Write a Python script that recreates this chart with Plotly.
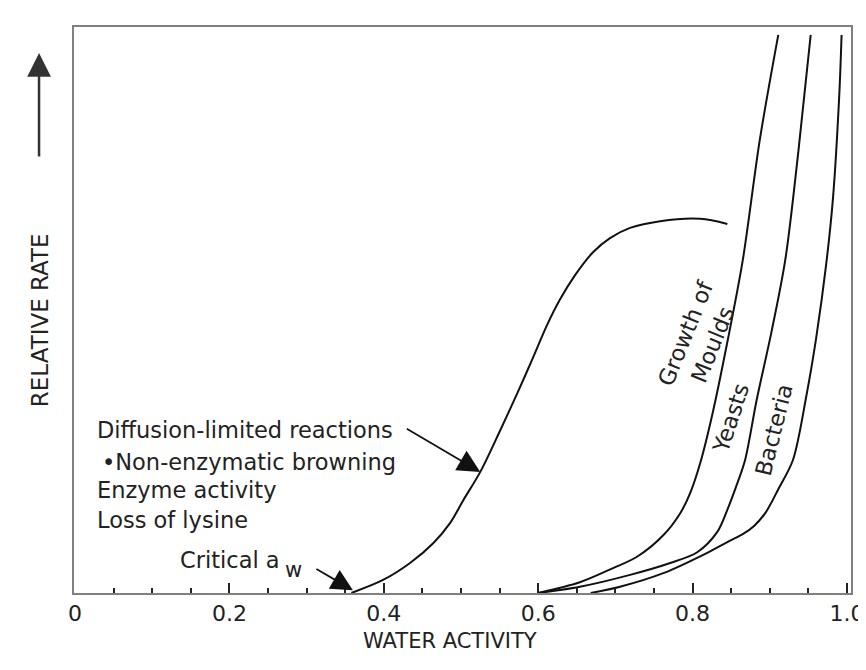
import plotly.graph_objects as go

# ---- data (water activity vs relative rate, arbitrary 0-100 scale) ----
aw_diffusion = [0.358, 0.399, 0.434, 0.464, 0.486, 0.503, 0.525, 0.551, 0.573, 0.593,
                0.611, 0.628, 0.648, 0.671, 0.693, 0.719, 0.758, 0.810, 0.845]
rate_diffusion = [0, 2.3, 5.3, 8.8, 12.4, 16.4, 21.4, 28.8, 35.3, 41.5,
                  47.2, 51.8, 56.2, 60.2, 62.7, 64.5, 65.7, 66.1, 65.2]

aw_moulds = [0.600, 0.654, 0.697, 0.728, 0.762, 0.784, 0.797, 0.810, 0.826, 0.846, 0.865, 0.887, 0.911]
rate_moulds = [0, 1.9, 4.4, 6.4, 10.2, 14.1, 17.7, 23.0, 31.8, 45.0, 58.8, 80.0, 98.6]

aw_yeasts = [0.600, 0.654, 0.719, 0.771, 0.806, 0.832, 0.845, 0.858, 0.868, 0.883, 0.902, 0.920, 0.937, 0.953]
rate_yeasts = [0, 1.1, 3.2, 5.3, 7.2, 10.8, 14.7, 19.4, 23.5, 34.1, 46.0, 58.8, 78.0, 98.6]

aw_bacteria = [0.668, 0.706, 0.762, 0.819, 0.848, 0.865, 0.880, 0.895, 0.912, 0.930, 0.948, 0.960,
               0.973, 0.982, 0.990, 0.993]
rate_bacteria = [0, 1.1, 3.5, 7.1, 9.2, 10.4, 11.9, 14.3, 18.6, 23.5, 35.3, 45.0,
                 58.0, 70.0, 88.0, 98.6]

x_tick_vals = [0, 0.2, 0.4, 0.6, 0.8, 1.0]
x_tick_text = ["0", "0.2", "0.4", "0.6", "0.8", "1.0"]

left_labels = ["Diffusion-limited reactions", "\u2022Non-enzymatic browning", "Enzyme activity", "Loss of lysine"]
left_label_x = [0.026, 0.032, 0.026, 0.026]
left_label_y = [28.8, 23.1, 18.2, 12.9]

curve_labels = ["Growth of<br>Moulds", "Yeasts", "Bacteria"]
curve_label_x = [0.808, 0.849, 0.905]
curve_label_y = [45.0, 31.0, 28.8]
curve_label_angle = [-68, -72, -76]

x_title = "WATER ACTIVITY"
y_title = "RELATIVE RATE"

FONT = "DejaVu Sans"
TXT = "#222222"

# the page body adds an 8px offset, so the figure is sized/margined to compensate
fig = go.Figure()
for xs, ys in [(aw_diffusion, rate_diffusion), (aw_moulds, rate_moulds),
               (aw_yeasts, rate_yeasts), (aw_bacteria, rate_bacteria)]:
    fig.add_trace(go.Scatter(x=xs, y=ys, mode="lines",
                             line=dict(color="#111111", width=2, shape="spline", smoothing=0.9),
                             hoverinfo="skip", showlegend=False))

annotations = []
for t, x, y in zip(left_labels, left_label_x, left_label_y):
    annotations.append(dict(text=t, x=x, y=y, xref="x", yref="y", xanchor="left", yanchor="middle",
                            showarrow=False, font=dict(family=FONT, size=22.5, color=TXT)))
for t, x, y, a in zip(curve_labels, curve_label_x, curve_label_y, curve_label_angle):
    annotations.append(dict(text=t, x=x, y=y, xref="x", yref="y", xanchor="center", yanchor="middle",
                            textangle=a, showarrow=False, font=dict(family=FONT, size=22.5, color=TXT)))
# Critical a_w label
annotations.append(dict(text="Critical a", x=0.134, y=5.8, xref="x", yref="y", xanchor="left",
                        yanchor="middle", showarrow=False, font=dict(family=FONT, size=22.5, color=TXT)))
annotations.append(dict(text="w", x=0.283, y=4.0, xref="x", yref="y", xanchor="center",
                        yanchor="middle", showarrow=False, font=dict(family=FONT, size=21, color=TXT)))
# axis titles
annotations.append(dict(text=x_title, x=0.484, y=-0.0848, xref="paper", yref="paper",
                        xanchor="center", yanchor="middle", showarrow=False,
                        font=dict(family=FONT, size=21, color=TXT)))
annotations.append(dict(text=y_title, x=-0.0438, y=0.482, xref="paper", yref="paper",
                        xanchor="center", yanchor="middle", textangle=-90, showarrow=False,
                        font=dict(family=FONT, size=23, color=TXT)))
# arrows
annotations.append(dict(text="", x=0.525, y=21.4, xref="x", yref="y", ax=-75, ay=-44,
                        showarrow=True, arrowhead=2, arrowsize=2.5, arrowwidth=1.8, arrowcolor="#111111"))
annotations.append(dict(text="", x=0.360, y=0.5, xref="x", yref="y", ax=-38, ay=-22,
                        showarrow=True, arrowhead=2, arrowsize=2.4, arrowwidth=1.8, arrowcolor="#111111"))
annotations.append(dict(text="", x=-0.045, y=0.954, xref="paper", yref="paper", ax=0, ay=105,
                        showarrow=True, arrowhead=2, arrowsize=1.9, arrowwidth=2.5, arrowcolor="#333333"))

fig.update_layout(
    width=858, height=662,
    margin=dict(l=66, r=15, t=19, b=77),
    plot_bgcolor="white", paper_bgcolor="white",
    annotations=annotations,
    xaxis=dict(range=[-0.0013, 1.0052], showgrid=False, zeroline=False,
               showline=True, mirror=True, linecolor="#808080", linewidth=2,
               ticks="inside", ticklen=10, tickwidth=2, tickcolor="#222222",
               tickmode="array", tickvals=x_tick_vals, ticktext=x_tick_text,
               tickfont=dict(family=FONT, size=22, color=TXT),
               minor=dict(tickmode="linear", tick0=0, dtick=0.05, ticks="inside",
                          ticklen=5, tickwidth=2, tickcolor="#222222"),
               automargin=False),
    yaxis=dict(range=[0, 100], showgrid=False, zeroline=False,
               showline=True, mirror=True, linecolor="#808080", linewidth=2,
               ticks="", showticklabels=False, automargin=False),
)

fig.write_html("out.html")
